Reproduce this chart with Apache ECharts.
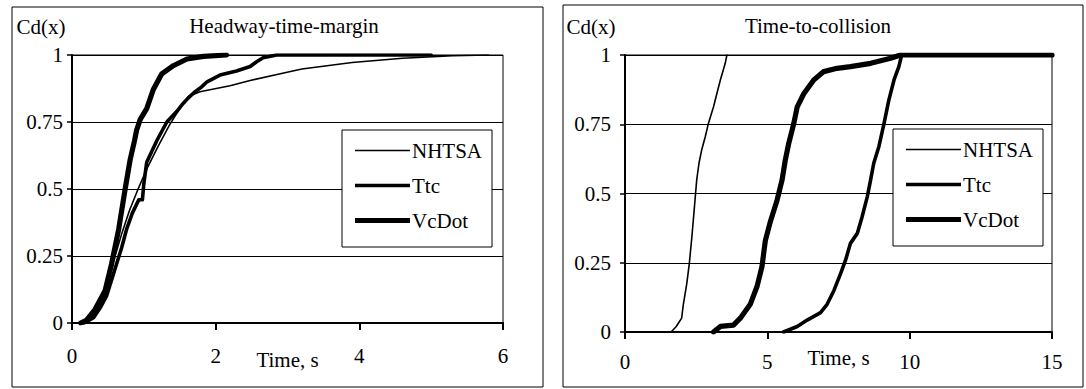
<!DOCTYPE html>
<html>
<head>
<meta charset="utf-8">
<title>Cumulative distributions: headway-time-margin and time-to-collision</title>
<script src="https://cdn.jsdelivr.net/npm/echarts@6/dist/echarts.min.js"></script>
<style>
  html, body { margin: 0; padding: 0; background: #fff; }
  #chart { width: 1086px; height: 389px; }
</style>
</head>
<body>
<div id="chart"></div>
<script>
// Panel titles and axis captions
const panelTitles = ['Headway-time-margin', 'Time-to-collision'];
const yCaption = 'Cd(x)';
const xCaption = 'Time, s';
const seriesNames = ['NHTSA', 'Ttc', 'VcDot'];

// Axis ranges (seconds / cumulative fraction)
const hmXTicks = { min: 0, max: 6, interval: 2 };
const ttXTicks = { min: 0, max: 15, interval: 5 };
const yTicks = { min: 0, max: 1, interval: 0.25 };

// Headway-time-margin, cumulative distributions
const hmNhtsaX = [0.15, 0.25, 0.35, 0.43, 0.52, 0.60, 0.70, 0.80, 0.92, 1.05, 1.20, 1.36, 1.50, 1.62, 1.78, 2.20, 2.48, 2.90, 3.20, 3.90, 4.60, 5.30, 5.80];
const hmNhtsaY = [0, 0.02, 0.06, 0.10, 0.17, 0.25, 0.34, 0.42, 0.50, 0.58, 0.66, 0.74, 0.80, 0.845, 0.863, 0.885, 0.905, 0.93, 0.948, 0.972, 0.988, 0.997, 1.0];

const hmTtcX = [0.17, 0.30, 0.40, 0.48, 0.55, 0.62, 0.69, 0.76, 0.84, 0.93, 0.98, 1.00, 1.04, 1.18, 1.32, 1.46, 1.55, 1.62, 1.70, 1.80, 1.88, 2.06, 2.29, 2.48, 2.57, 2.66, 2.85, 5.0];
const hmTtcY = [0, 0.02, 0.06, 0.10, 0.16, 0.22, 0.28, 0.35, 0.41, 0.46, 0.46, 0.52, 0.60, 0.68, 0.75, 0.79, 0.82, 0.84, 0.86, 0.88, 0.90, 0.925, 0.94, 0.957, 0.975, 0.99, 1.0, 1.0];

const hmVcX = [0.12, 0.20, 0.32, 0.46, 0.55, 0.65, 0.71, 0.74, 0.81, 0.87, 0.90, 0.95, 1.04, 1.13, 1.25, 1.41, 1.60, 1.83, 2.15];
const hmVcY = [0, 0.01, 0.05, 0.12, 0.22, 0.35, 0.45, 0.50, 0.61, 0.68, 0.72, 0.76, 0.80, 0.87, 0.93, 0.96, 0.985, 0.995, 1.0];

// Time-to-collision, cumulative distributions
const ttNhtsaX = [1.62, 1.80, 1.99, 2.05, 2.17, 2.26, 2.35, 2.46, 2.52, 2.60, 2.70, 2.82, 2.93, 3.11, 3.25, 3.35, 3.45, 3.52, 3.58];
const ttNhtsaY = [0, 0.02, 0.05, 0.10, 0.175, 0.248, 0.344, 0.477, 0.55, 0.61, 0.66, 0.705, 0.753, 0.813, 0.87, 0.91, 0.945, 0.97, 1.0];

const ttTtcX = [5.57, 6.05, 6.40, 6.87, 7.10, 7.34, 7.57, 7.75, 7.92, 8.16, 8.33, 8.51, 8.63, 8.74, 8.92, 9.10, 9.27, 9.45, 9.62, 9.72, 15];
const ttTtcY = [0, 0.02, 0.043, 0.07, 0.10, 0.15, 0.21, 0.26, 0.32, 0.356, 0.416, 0.488, 0.55, 0.61, 0.67, 0.753, 0.838, 0.91, 0.958, 1.0, 1.0];

const ttVcX = [3.11, 3.35, 3.81, 4.05, 4.40, 4.64, 4.81, 4.93, 5.11, 5.34, 5.52, 5.63, 5.75, 5.93, 6.05, 6.28, 6.63, 6.98, 7.45, 7.92, 8.63, 9.33, 9.68, 15];
const ttVcY = [0, 0.02, 0.025, 0.05, 0.10, 0.165, 0.235, 0.33, 0.40, 0.475, 0.55, 0.62, 0.68, 0.753, 0.813, 0.86, 0.91, 0.94, 0.952, 0.958, 0.97, 0.988, 1.0, 1.0];

const FONT = "'Liberation Serif', 'Times New Roman', serif";
const INK = '#000';
const lineWidths = { NHTSA: 1.6, Ttc: 3.6, VcDot: 5.2 };

const zip = (xs, ys) => xs.map((x, i) => [x, ys[i]]);

function curve(name, gridIndex, xs, ys) {
  return {
    name: name,
    type: 'line',
    xAxisIndex: gridIndex,
    yAxisIndex: gridIndex,
    data: zip(xs, ys),
    showSymbol: false,
    symbol: 'none',
    animation: false,
    z: 3,
    itemStyle: { color: INK },
    lineStyle: { color: INK, width: lineWidths[name], join: 'round', cap: 'round' }
  };
}

function xAxisFor(gridIndex, ticks, nameGap, labelMargin) {
  return {
    type: 'value',
    gridIndex: gridIndex,
    min: ticks.min, max: ticks.max, interval: ticks.interval,
    name: xCaption,
    nameLocation: 'middle',
    nameGap: nameGap,
    nameMoveOverlap: false,
    nameTextStyle: { fontFamily: FONT, fontSize: 21, color: INK },
    axisLine: { show: true, onZero: false, lineStyle: { color: INK, width: 2 } },
    axisTick: { show: true, inside: false, length: 7, lineStyle: { color: INK, width: 2 } },
    axisLabel: { fontFamily: FONT, fontSize: 21, color: INK, margin: labelMargin },
    splitLine: { show: false }
  };
}

function yAxisFor(gridIndex, labelMargin) {
  return {
    type: 'value',
    gridIndex: gridIndex,
    min: yTicks.min, max: yTicks.max, interval: yTicks.interval,
    axisLine: { show: true, lineStyle: { color: INK, width: 2 } },
    axisTick: { show: true, inside: false, length: 5, lineStyle: { color: INK, width: 1.5 } },
    axisLabel: { fontFamily: FONT, fontSize: 21, color: INK, margin: labelMargin },
    splitLine: { show: true, lineStyle: { color: INK, width: 1.2 } }
  };
}

// legend swatches: flat bars as thick as each curve's stroke
function swatch(name) {
  const w = lineWidths[name];
  return { name: name, icon: 'path://M0,0H55V' + w + 'H0Z' };
}

function legendFor(left, top) {
  return {
    show: true,
    data: seriesNames.map(swatch),
    orient: 'vertical',
    left: left, top: top,
    padding: [10, 10, 16, 13],
    itemGap: 14,
    itemWidth: 55,
    itemHeight: 14,
    symbolKeepAspect: true,
    selectedMode: false,
    backgroundColor: '#fff',
    borderColor: INK,
    borderWidth: 1,
    itemStyle: { color: INK, borderWidth: 0 },
    textStyle: { fontFamily: FONT, fontSize: 21, color: INK, padding: [0, 0, 0, -3] }
  };
}

function caption(text, x, y) {
  return {
    type: 'text', x: x, y: y, silent: true,
    style: { text: text, fontFamily: FONT, fontSize: 21, fill: INK, align: 'center', verticalAlign: 'middle' }
  };
}

function gridAt(left, top, width, height) {
  return {
    left: left, top: top, width: width, height: height,
    outerBoundsMode: 'none',
    containLabel: false,
    show: true, borderColor: INK, borderWidth: 1, backgroundColor: 'transparent'
  };
}

const chart = echarts.init(document.getElementById('chart'), null, { renderer: 'svg' });

chart.setOption({
  backgroundColor: '#fff',
  animation: false,
  textStyle: { fontFamily: FONT },
  grid: [gridAt(72, 55, 431, 268), gridAt(625, 55, 427, 277)],
  xAxis: [xAxisFor(0, hmXTicks, 26, 22), xAxisFor(1, ttXTicks, 15, 19)],
  yAxis: [yAxisFor(0, 9), yAxisFor(1, 14)],
  legend: [legendFor(342, 130), legendFor(893, 129)],
  series: [
    curve('NHTSA', 0, hmNhtsaX, hmNhtsaY),
    curve('Ttc', 0, hmTtcX, hmTtcY),
    curve('VcDot', 0, hmVcX, hmVcY),
    curve('NHTSA', 1, ttNhtsaX, ttNhtsaY),
    curve('Ttc', 1, ttTtcX, ttTtcY),
    curve('VcDot', 1, ttVcX, ttVcY)
  ],
  graphic: [
    // panel frames
    { type: 'rect', silent: true, z: -1, shape: { x: 12, y: 7, width: 531, height: 380 }, style: { fill: 'none', stroke: INK, lineWidth: 1 } },
    { type: 'rect', silent: true, z: -1, shape: { x: 563, y: 5, width: 520, height: 382 }, style: { fill: 'none', stroke: INK, lineWidth: 1 } },
    caption(panelTitles[0], 284, 26),
    caption(panelTitles[1], 818, 26),
    caption(yCaption, 41, 27),
    caption(yCaption, 591, 27)
  ]
});
</script>
</body>
</html>
